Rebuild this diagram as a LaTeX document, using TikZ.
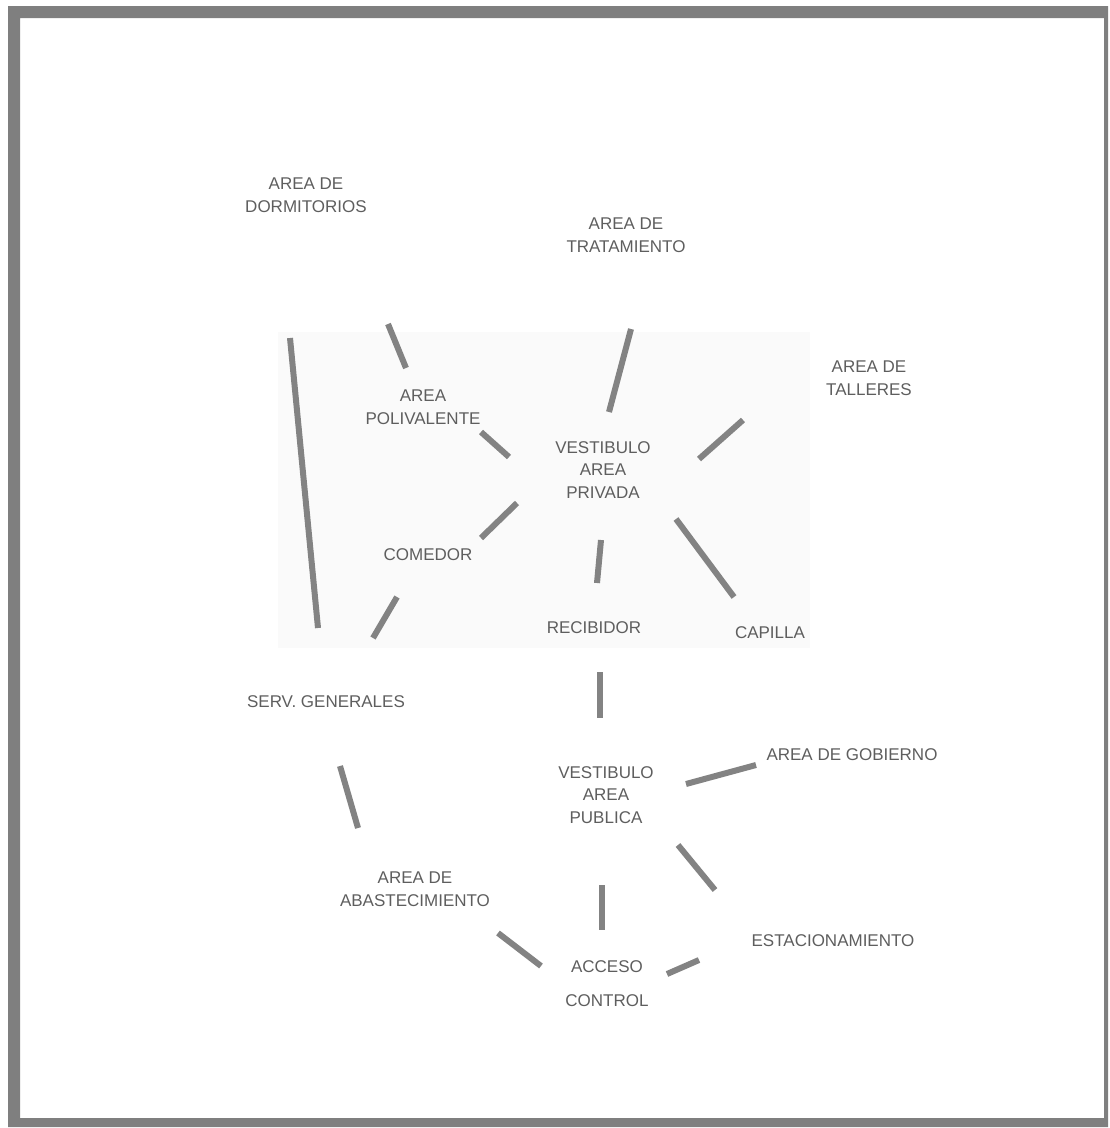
\documentclass[tikz,border=0pt]{standalone}
\usepackage{fontspec}
\setmainfont{Liberation Sans}
\usepackage{tikz}

\definecolor{framegray}{HTML}{7F7F7F}
\definecolor{bargray}{HTML}{838383}
\definecolor{textgray}{HTML}{5E5E5E}
\definecolor{zonegray}{HTML}{FAFAFA}

\begin{document}
\begin{tikzpicture}[
    x=1pt, y=-1pt,
    area/.style={text=textgray, align=center, inner sep=0pt,
        font=\fontsize{17}{22.5}\selectfont},
    link/.style={draw=bargray, line width=6pt}
]
\useasboundingbox (0,0) rectangle (1110,1128);
% frame and private zone
\fill[framegray, even odd rule] (8,6) rectangle (1108,1127) (20,18) rectangle (1104,1118);
\fill[zonegray] (278,332) rectangle (810,648);

% areas
\node[area] (dorm) at (306,195) {AREA DE\\DORMITORIOS};
\node[area] (trat) at (626,235) {AREA DE\\TRATAMIENTO};
\node[area] (tall) at (869,378) {AREA DE\\TALLERES};
\node[area] (poli) at (423,407) {AREA\\POLIVALENTE};
\node[area] (vpriv) at (603,470) {VESTIBULO\\AREA\\PRIVADA};
\node[area] (come) at (428,555) {COMEDOR};
\node[area] (reci) at (594,628) {RECIBIDOR};
\node[area] (capi) at (770,633) {CAPILLA};
\node[area] (serv) at (326,702) {SERV. GENERALES};
\node[area] (gobi) at (852,755) {AREA DE GOBIERNO};
\node[area] (vpub) at (606,795) {VESTIBULO\\AREA\\PUBLICA};
\node[area] (abas) at (415,889) {AREA DE\\ABASTECIMIENTO};
\node[area] (esta) at (833,941) {ESTACIONAMIENTO};
\node[area, font=\fontsize{17}{34}\selectfont] (acce) at (607,984) {ACCESO\\CONTROL};

% bar ends
\coordinate (dorm-serv1) at (290,338);  \coordinate (dorm-serv2) at (318,628);
\coordinate (dorm-poli1) at (388,324);  \coordinate (dorm-poli2) at (406,368);
\coordinate (poli-vpriv1) at (481,432); \coordinate (poli-vpriv2) at (509,457);
\coordinate (trat-vpriv1) at (631,329); \coordinate (trat-vpriv2) at (609,412);
\coordinate (tall-vpriv1) at (743,420); \coordinate (tall-vpriv2) at (699,459);
\coordinate (vpriv-come1) at (517,503); \coordinate (vpriv-come2) at (481,538);
\coordinate (vpriv-reci1) at (601,540); \coordinate (vpriv-reci2) at (597,583);
\coordinate (vpriv-capi1) at (676,519); \coordinate (vpriv-capi2) at (734,597);
\coordinate (come-serv1) at (397,597);  \coordinate (come-serv2) at (373,638);
\coordinate (reci-vpub1) at (600,672);  \coordinate (reci-vpub2) at (600,718);
\coordinate (gobi-vpub1) at (756,765);  \coordinate (gobi-vpub2) at (686,784);
\coordinate (serv-abas1) at (340,766);  \coordinate (serv-abas2) at (358,828);
\coordinate (vpub-esta1) at (678,845);  \coordinate (vpub-esta2) at (715,890);
\coordinate (vpub-acce1) at (602,885);  \coordinate (vpub-acce2) at (602,930);
\coordinate (abas-acce1) at (498,933);  \coordinate (abas-acce2) at (541,966);
\coordinate (esta-acce1) at (699,960);  \coordinate (esta-acce2) at (667,974);

% links
\foreach \l in {dorm-serv, dorm-poli, poli-vpriv, trat-vpriv, tall-vpriv,
    vpriv-come, vpriv-reci, vpriv-capi, come-serv, reci-vpub, gobi-vpub,
    serv-abas, vpub-esta, vpub-acce, abas-acce, esta-acce}
    \draw[link] (\l1) -- (\l2);
\end{tikzpicture}
\end{document}
